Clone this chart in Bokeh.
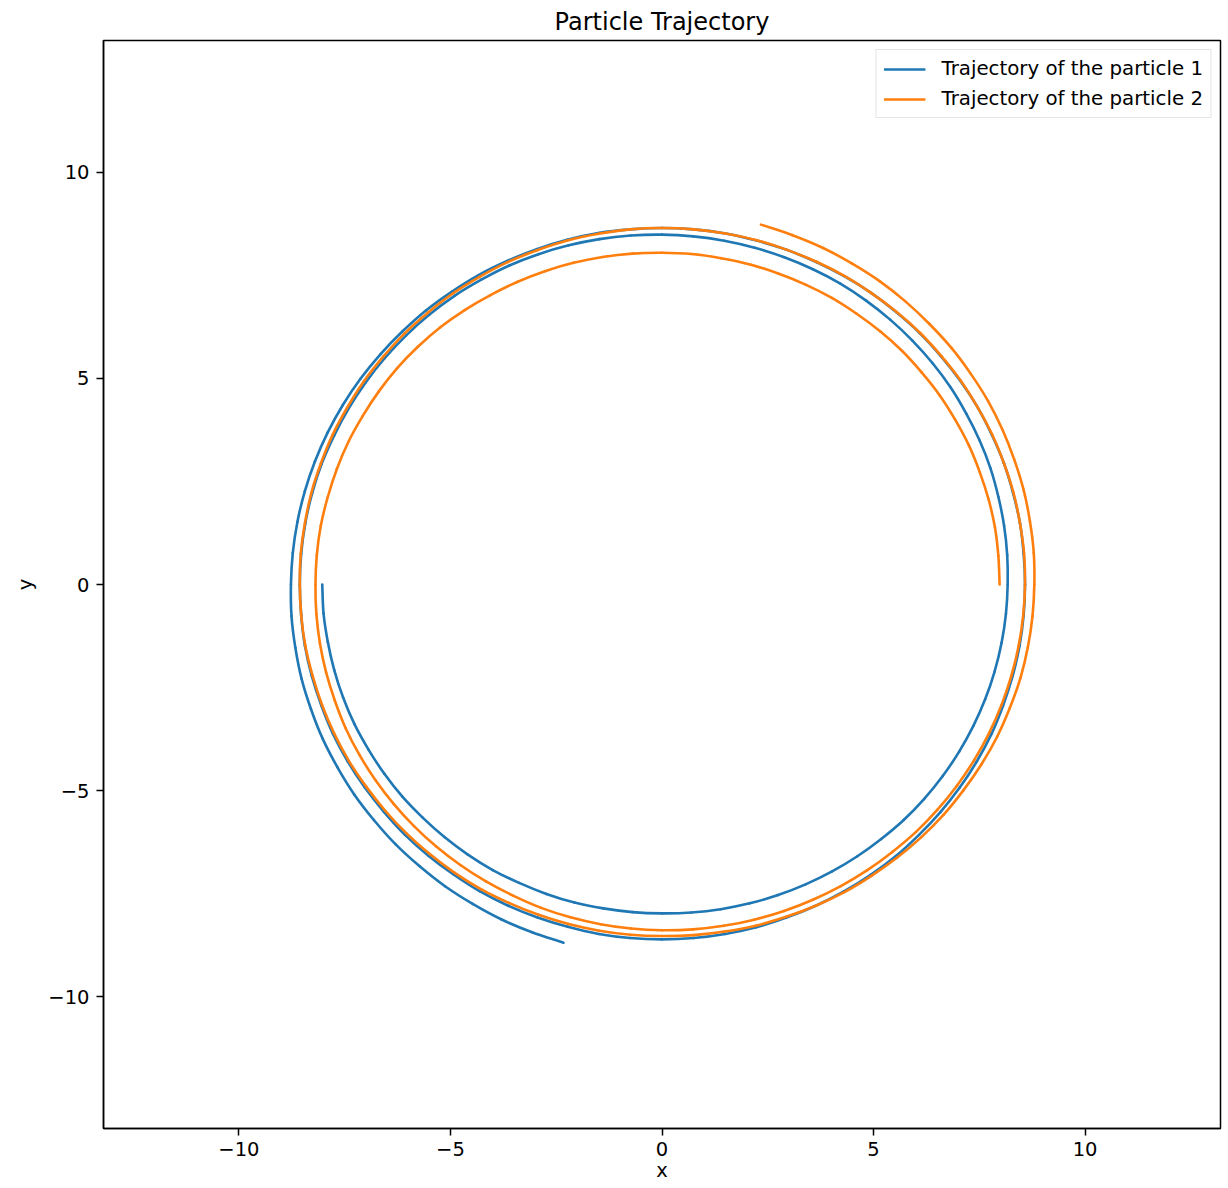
import numpy as np
from bokeh.plotting import figure
from bokeh.models import FixedTicker, Legend, LegendItem
from bokeh.embed import file_html
from bokeh.resources import INLINE

# ---- data (polar readings: angle travelled from the start, radius) ----
travel_deg = [0, 5, 10, 15, 20, 25, 30, 35, 40, 45, 50, 55, 60, 65, 70, 75, 80, 85,
              90, 95, 100, 105, 110, 115, 120, 125, 130, 135, 140, 145, 150, 155, 160, 165, 170, 175,
              180, 185, 190, 195, 200, 205, 210, 215, 220, 225, 230, 235, 240, 245, 250, 255, 260, 265,
              270, 275, 280, 285, 290, 295, 300, 305, 310, 315, 320, 325, 330, 335, 340, 345, 350, 355,
              360, 365, 370, 375, 380, 385, 390, 395, 400, 405, 410, 415, 420, 425, 430, 435, 440, 445,
              450, 455, 460, 465, 470, 475, 480, 485, 490, 495, 500, 505, 510, 515, 520, 525, 530, 535,
              540, 545, 550, 555, 560, 565, 570, 575, 580, 585, 590, 595, 600, 605, 610, 615, 620, 625,
              630, 635, 640, 645, 650, 655, 660, 665, 670, 675, 680, 685, 690, 695, 700, 705, 710, 715,
              720, 725, 730, 735, 740, 745, 750, 755, 760, 765, 770, 775, 780, 785, 790, 795]

p1_start_deg = 180
p1_radius = [8.03, 8.03, 8.02, 8.02, 8.02, 8.02, 8.01, 8.01, 8.01, 8.00, 8.00, 8.00, 8.00, 7.99, 7.99, 7.99, 7.98, 7.98,
             7.98, 7.99, 8.00, 8.01, 8.02, 8.03, 8.04, 8.05, 8.06, 8.08, 8.09, 8.10, 8.11, 8.12, 8.13, 8.14, 8.15, 8.16,
             8.17, 8.19, 8.21, 8.23, 8.26, 8.28, 8.30, 8.33, 8.35, 8.37, 8.39, 8.41, 8.43, 8.44, 8.45, 8.46, 8.47, 8.48,
             8.49, 8.50, 8.51, 8.52, 8.53, 8.54, 8.54, 8.55, 8.55, 8.55, 8.55, 8.55, 8.55, 8.55, 8.56, 8.56, 8.56, 8.56,
             8.56, 8.56, 8.57, 8.57, 8.57, 8.58, 8.58, 8.58, 8.58, 8.59, 8.59, 8.59, 8.60, 8.60, 8.60, 8.60, 8.61, 8.61,
             8.61, 8.61, 8.61, 8.61, 8.60, 8.60, 8.60, 8.60, 8.60, 8.59, 8.59, 8.59, 8.59, 8.59, 8.58, 8.58, 8.58, 8.58,
             8.58, 8.58, 8.59, 8.59, 8.60, 8.60, 8.61, 8.61, 8.61, 8.62, 8.62, 8.63, 8.63, 8.63, 8.64, 8.64, 8.65, 8.65,
             8.65, 8.65, 8.66, 8.66, 8.66, 8.66, 8.67, 8.67, 8.68, 8.68, 8.69, 8.70, 8.71, 8.72, 8.73, 8.74, 8.75, 8.76,
             8.77, 8.79, 8.80, 8.82, 8.83, 8.85, 8.86, 8.88, 8.89, 8.91, 8.92, 8.94, 8.95, 8.97, 8.98, 9.00]

p2_start_deg = 0
p2_radius = [7.98, 7.98, 7.99, 7.99, 7.99, 8.00, 8.00, 8.01, 8.01, 8.02, 8.02, 8.02, 8.03, 8.03, 8.03, 8.04, 8.04, 8.05,
             8.05, 8.06, 8.07, 8.08, 8.09, 8.10, 8.11, 8.13, 8.15, 8.16, 8.17, 8.17, 8.17, 8.18, 8.18, 8.18, 8.19, 8.19,
             8.19, 8.20, 8.21, 8.22, 8.23, 8.25, 8.26, 8.27, 8.28, 8.29, 8.30, 8.31, 8.32, 8.33, 8.35, 8.36, 8.37, 8.38,
             8.39, 8.40, 8.41, 8.42, 8.43, 8.44, 8.45, 8.46, 8.47, 8.49, 8.50, 8.51, 8.52, 8.53, 8.54, 8.55, 8.56, 8.57,
             8.58, 8.59, 8.59, 8.60, 8.60, 8.61, 8.61, 8.62, 8.62, 8.63, 8.63, 8.63, 8.64, 8.64, 8.64, 8.65, 8.65, 8.65,
             8.65, 8.65, 8.64, 8.64, 8.63, 8.63, 8.62, 8.62, 8.61, 8.61, 8.60, 8.60, 8.59, 8.59, 8.58, 8.58, 8.57, 8.57,
             8.56, 8.56, 8.56, 8.55, 8.55, 8.55, 8.55, 8.54, 8.54, 8.54, 8.54, 8.54, 8.54, 8.53, 8.53, 8.53, 8.53, 8.53,
             8.53, 8.54, 8.55, 8.57, 8.58, 8.60, 8.62, 8.63, 8.65, 8.67, 8.69, 8.70, 8.72, 8.74, 8.75, 8.77, 8.78, 8.79,
             8.80, 8.82, 8.83, 8.85, 8.86, 8.88, 8.90, 8.91, 8.93, 8.94, 8.96, 8.98, 8.99, 9.01, 9.02, 9.04]

series_labels = ["Trajectory of the particle 1", "Trajectory of the particle 2"]
series_colors = ["#1f77b4", "#ff7f0e"]
tick_values = [-10, -5, 0, 5, 10]
tick_labels = ["\u221210", "\u22125", "0", "5", "10"]
axis_limits = (-13.2, 13.2)

LINE_W = 2.6
FONT = "DejaVu Sans"

# ---- polar readings -> cartesian ----
def to_xy(start, radius):
    ang = np.deg2rad(start + np.array(travel_deg, dtype=float))
    r = np.array(radius)
    return r * np.cos(ang), r * np.sin(ang)

x1, y1 = to_xy(p1_start_deg, p1_radius)
x2, y2 = to_xy(p2_start_deg, p2_radius)


def smooth_segments(x, y):
    """Cubic (Catmull-Rom) segments passing through every read point, for a smooth stroke."""
    P = np.column_stack([x, y])
    T = np.empty_like(P)
    T[1:-1] = (P[2:] - P[:-2]) / 2.0
    T[0] = P[1] - P[0]
    T[-1] = P[-1] - P[-2]
    c0 = P[:-1] + T[:-1] / 3.0
    c1 = P[1:] - T[1:] / 3.0
    return dict(x0=P[:-1, 0], y0=P[:-1, 1], x1=P[1:, 0], y1=P[1:, 1],
                cx0=c0[:, 0], cy0=c0[:, 1], cx1=c1[:, 0], cy1=c1[:, 1])


p = figure(frame_width=1117, frame_height=1088,
           x_range=axis_limits, y_range=axis_limits,
           min_border_left=103, min_border_top=40, min_border_right=8, min_border_bottom=60,
           output_backend="svg", toolbar_location=None,
           title="Particle Trajectory", x_axis_label="x", y_axis_label="y")

p.title.text_font = FONT
p.title.text_font_size = "24px"
p.title.text_font_style = "normal"
p.title.text_color = "black"
p.title.align = "center"
p.title.standoff = 10

p.xgrid.visible = False
p.ygrid.visible = False
p.outline_line_color = "black"
p.outline_line_width = 1.5
p.background_fill_color = "white"
p.border_fill_color = "white"

for ax in (p.xaxis[0], p.yaxis[0]):
    ax.ticker = FixedTicker(ticks=tick_values)
    ax.major_label_overrides = {v: s for v, s in zip(tick_values, tick_labels)}
    ax.major_label_text_font = FONT
    ax.major_label_text_font_size = "19.5px"
    ax.major_label_text_color = "black"
    ax.axis_line_color = "black"
    ax.axis_line_width = 1.5
    ax.major_tick_line_color = "black"
    ax.major_tick_line_width = 1.5
    ax.major_tick_out = 7
    ax.major_tick_in = 0
    ax.minor_tick_line_color = None
    ax.axis_label_text_font = FONT
    ax.axis_label_text_font_style = "normal"
    ax.axis_label_text_font_size = "19.5px"
    ax.axis_label_text_color = "black"

p.xaxis[0].major_label_standoff = 6
p.xaxis[0].axis_label_standoff = 0
p.yaxis[0].major_label_standoff = 7
p.yaxis[0].axis_label_standoff = 8

p.bezier(**smooth_segments(x1, y1), line_color=series_colors[0], line_width=LINE_W, line_cap="round")
p.bezier(**smooth_segments(x2, y2), line_color=series_colors[1], line_width=LINE_W, line_cap="round")

# legend swatches (one undefined point each, so nothing is drawn in the plot area)
k1 = p.line(x=[np.nan], y=[np.nan], line_color=series_colors[0], line_width=LINE_W)
k2 = p.line(x=[np.nan], y=[np.nan], line_color=series_colors[1], line_width=LINE_W)

legend = Legend(items=[LegendItem(label=series_labels[0], renderers=[k1]),
                       LegendItem(label=series_labels[1], renderers=[k2])],
                location="top_right")
legend.label_text_font = FONT
legend.label_text_font_size = "19.8px"
legend.label_text_color = "black"
legend.glyph_width = 42
legend.glyph_height = 20
legend.label_height = 20
legend.label_standoff = 16
legend.padding = 7
legend.spacing = 7
legend.margin = 9
legend.border_line_color = "#cccccc"
legend.border_line_width = 1.5
legend.background_fill_alpha = 0.8
p.add_layout(legend)

open("out.html", "w").write(file_html(p, INLINE))
